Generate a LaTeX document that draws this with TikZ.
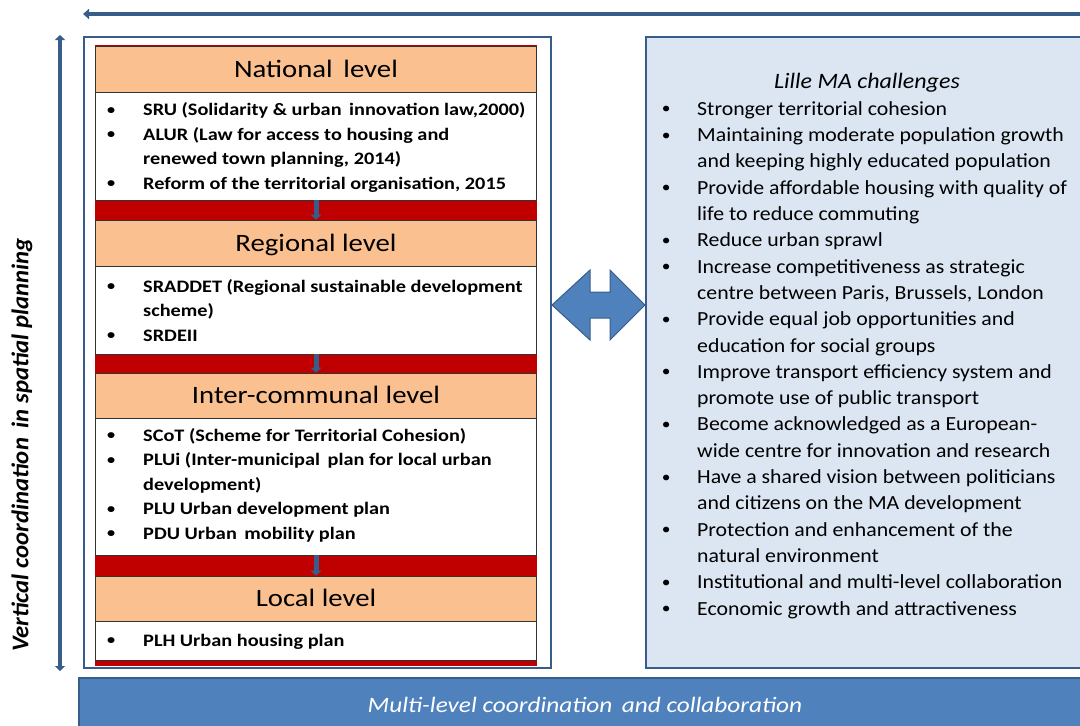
\documentclass[tikz,border=0pt]{standalone}
\usepackage{fontspec}
\setmainfont{Carlito}
\newfontfamily\hdrfont[FakeStretch=1.15]{Carlito}
\newfontfamily\lfont[FakeStretch=1.16]{Carlito}
\newfontfamily\rfont[FakeStretch=1.09]{Carlito}
\newfontfamily\vfont[FakeStretch=1.03]{Carlito}
\newfontfamily\bfont[FakeStretch=1.15]{Carlito}
\usetikzlibrary{arrows.meta}
\definecolor{bline}{RGB}{56,93,138}
\definecolor{bfill}{RGB}{79,129,189}
\definecolor{orng}{RGB}{250,192,144}
\definecolor{redbar}{RGB}{192,0,0}
\definecolor{lblue}{RGB}{220,230,242}
\newcommand\bl[1]{\llap{\makebox[0pt]{\raisebox{0.07em}{\scalebox{0.8}{\textbullet}}}\hspace{#1}}}
\begin{document}
\begin{tikzpicture}[x=1pt,y=-1pt,
 hdr/.style={draw=black!80, line width=0.8pt, fill=orng, minimum width=441pt, minimum height=46pt, inner sep=0pt, font=\hdrfont\fontsize{25}{30}\selectfont, text height=17pt, text depth=1pt},
 bodybox/.style={draw=black!80, line width=0.8pt, fill=white, minimum width=441pt, inner sep=0pt},
 ltxt/.style={anchor=base west, align=left, inner sep=0pt, font=\lfont\fontsize{17.5}{24.5}\selectfont\bfseries},
 rtxt/.style={anchor=base west, align=left, inner sep=0pt, font=\rfont\fontsize{20}{26.3}\selectfont},
 panel/.style={draw=bline, line width=2pt},
 smallarr/.style={draw=bline, line width=5pt, -{Triangle[width=11pt,length=5pt]}},
 bigarr/.style={draw=bline, line width=4.5pt}
]
\clip (0,0) rectangle (1080,726);
% top arrow
\coordinate (tR) at (1090,14);
\coordinate (tL) at (83,14);
\draw[bigarr, line width=4pt, -{Triangle[width=10pt,length=6pt]}] (tR) -- (tL);
% left vertical arrow
\coordinate (vT) at (60,35);
\coordinate (vB) at (60,671);
\draw[bigarr, {Triangle[width=10pt,length=5pt]}-{Triangle[width=10pt,length=5pt]}] (vT) -- (vB);
\node[rotate=90, font=\vfont\fontsize{24}{28}\selectfont\bfseries\itshape] (vtxt) at (22,445) {Vertical coordination\, in spatial planning};
% left outer box
\node[panel, fill=white, minimum width=467pt, minimum height=631pt, inner sep=0pt] (lbox) at (317.5,352.5) {};
% red column
\node[fill=redbar, minimum width=442pt, minimum height=621pt, inner sep=0pt] (col) at (316,355.5) {};
% sections
\node[hdr] (nh) at (316,69) {National\, level};
\node[bodybox, minimum height=108pt] (nb) at (316,146) {};
\node[hdr] (rh) at (316,243) {Regional level};
\node[bodybox, minimum height=88pt] (rb) at (316,310) {};
\node[hdr, minimum height=45pt] (ih) at (316,395.5) {Inter-communal level};
\node[bodybox, minimum height=137pt] (ib) at (316,486.5) {};
\node[hdr, minimum height=45pt] (lh) at (316,598.5) {Local level};
\node[bodybox, minimum height=39pt] (lb) at (316,640.5) {};
% small arrows
\draw[smallarr] (nb.south) -- (rh.north);
\draw[smallarr] (rb.south) -- (ih.north);
\draw[smallarr] (ib.south) -- (lh.north);
% body texts (anchored on the baseline of the last line)
\node[ltxt] (nt) at (143,189) {\bl{32pt}SRU (Solidarity \& urban\, innovation law,2000)\\
\bl{32pt}ALUR (Law for access to housing and\\
renewed town planning, 2014)\\
\bl{32pt}Reform of the territorial organisation, 2015};
\node[ltxt] (rt) at (143,341) {\bl{32pt}SRADDET (Regional sustainable development\\
scheme)\\
\bl{32pt}SRDEII};
\node[ltxt] (it) at (143,539) {\bl{32pt}SCoT (Scheme for Territorial Cohesion)\\
\bl{32pt}PLUi (Inter-municipal\, plan for local urban\\
development)\\
\bl{32pt}PLU Urban development plan\\
\bl{32pt}PDU Urban\, mobility plan};
\node[ltxt] (lt) at (143,646) {\bl{32pt}PLH Urban housing plan};
% right box
\node[panel, fill=lblue, minimum width=444pt, minimum height=631pt, inner sep=0pt] (rbox) at (868,352.5) {};
\node[anchor=base, inner sep=0pt, font=\rfont\fontsize{22}{26}\selectfont\itshape] (ttl) at (867,88) {Lille MA challenges};
\node[rtxt] (chl) at (697,615) {\bl{31pt}Stronger territorial cohesion\\
\bl{31pt}Maintaining moderate population growth\\
and keeping highly educated population\\
\bl{31pt}Provide affordable housing with quality of\\
life to reduce commuting\\
\bl{31pt}Reduce urban sprawl\\
\bl{31pt}Increase competitiveness as strategic\\
centre between Paris, Brussels, London\\
\bl{31pt}Provide equal job opportunities and\\
education for social groups\\
\bl{31pt}Improve transport efficiency system and\\
promote use of public transport\\
\bl{31pt}Become acknowledged as a European-\\
wide centre for innovation and research\\
\bl{31pt}Have a shared vision between politicians\\
and citizens on the MA development\\
\bl{31pt}Protection and enhancement of the\\
natural environment\\
\bl{31pt}Institutional and multi-level collaboration\\
\bl{31pt}Economic growth and attractiveness};
% double arrow
\filldraw[fill=bfill, draw=bline, line width=1pt] (lbox.east |- 0,305) -- (590,270) -- (590,292) -- (610,292) -- (610,270) -- (rbox.west |- 0,305) -- (610,340) -- (610,318) -- (590,318) -- (590,340) -- cycle;
% bottom bar
\node[fill=bfill, draw=bline, line width=1.5pt, minimum width=1010pt, minimum height=58pt, inner sep=0pt] (bbar) at (584,707) {};
\node[anchor=base, inner sep=0pt, text=white, font=\bfont\fontsize{22}{26}\selectfont\itshape] (btxt) at (585,712) {Multi-level coordination\, and collaboration};
\end{tikzpicture}
\end{document}
